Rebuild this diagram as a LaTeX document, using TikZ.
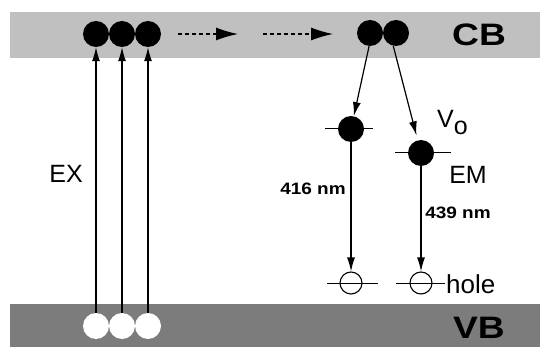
\documentclass[tikz,border=0pt]{standalone}
\usepackage{fontspec}
\setmainfont{Liberation Sans}
\usetikzlibrary{arrows.meta}
\definecolor{cbgray}{RGB}{192,192,192}
\definecolor{vbgray}{RGB}{124,124,124}
\begin{document}
\begin{tikzpicture}[x=1pt,y=-1pt,
  el/.style={circle,fill=black,minimum size=26pt,inner sep=0pt},
  hv/.style={circle,fill=white,minimum size=26pt,inner sep=0pt},
  hg/.style={circle,draw=black,line width=1.1pt,minimum size=22pt,inner sep=0pt},
  lvl/.style={line width=1pt},
  arr/.style={line width=1.2pt,-{Latex[length=14pt,width=8pt]}},
  darr/.style={line width=1.2pt,dash pattern=on 4pt off 3pt,-{Latex[length=22pt,width=13pt]}},
  bandlab/.style={inner sep=0pt,font=\fontsize{31}{31}\selectfont\bfseries,xscale=1.2,transform shape},
  lab/.style={inner sep=0pt,font=\fontsize{25}{25}\selectfont},
  wl/.style={inner sep=0pt,font=\fontsize{16.5}{16.5}\selectfont\bfseries,xscale=1.15,transform shape}]
\useasboundingbox (0,0) rectangle (540,347);
\fill[white] (0,0) rectangle (540,347);
\fill[cbgray] (10,12) rectangle (540,58);
\fill[vbgray] (10,304) rectangle (540,347);
% band labels
\node[bandlab] (cb) at (479,35) {CB};
\node[bandlab] (vb) at (479,328) {VB};
% CB electrons
\node[el] (e1) at (96,34) {};
\node[el] (e2) at (122,34) {};
\node[el] (e3) at (148,34) {};
\node[el] (e4) at (370,33) {};
\node[el] (e5) at (396,33) {};
% VB holes
\node[hv] (h1) at (96,326) {};
\node[hv] (h2) at (122,326) {};
\node[hv] (h3) at (148,326) {};
% trap levels
\coordinate (t1l) at (325,129); \coordinate (t1r) at (373,129);
\coordinate (t2l) at (395,153); \coordinate (t2r) at (451,153);
\coordinate (g1l) at (327,283); \coordinate (g1r) at (378,283);
\coordinate (g2l) at (396,283); \coordinate (g2r) at (445,283);
\draw[lvl] (t1l) -- (t1r);
\draw[lvl] (t2l) -- (t2r);
\draw[lvl] (g1l) -- (g1r);
\draw[lvl] (g2l) -- (g2r);
\node[el] (t1) at (351,129) {};
\node[el] (t2) at (421,153) {};
\node[hg] (g1) at (351,283) {};
\node[hg] (g2) at (421,283) {};
% excitation arrows
\draw[arr] (h1) -- (e1);
\draw[arr] (h2) -- (e2);
\draw[arr] (h3) -- (e3);
% dashed transport arrows
\coordinate (d1a) at (178,34); \coordinate (d1b) at (238,34);
\coordinate (d2a) at (263,34); \coordinate (d2b) at (333,34);
\draw[darr] (d1a) -- (d1b);
\draw[darr] (d2a) -- (d2b);
% relaxation arrows
\draw[arr] (e4.-94) -- (t1);
\draw[arr,shorten >=5pt] (e5.-102) -- (t2);
% emission arrows
\draw[arr] (t1) -- (g1);
\draw[arr] (t2) -- (g2);
% labels
\node[lab] (ex) at (66,174) {EX};
\node[lab] (em) at (468,175) {EM};
\node[lab,anchor=base west] (vo) at (437,128) {V\raisebox{-7pt}{o}};
\node[lab,anchor=base west,font=\fontsize{26}{26}\selectfont] (hole) at (446,293) {hole};
\node[wl] (w1) at (313,189) {416 nm};
\node[wl] (w2) at (458,213) {439 nm};
\end{tikzpicture}
\end{document}
